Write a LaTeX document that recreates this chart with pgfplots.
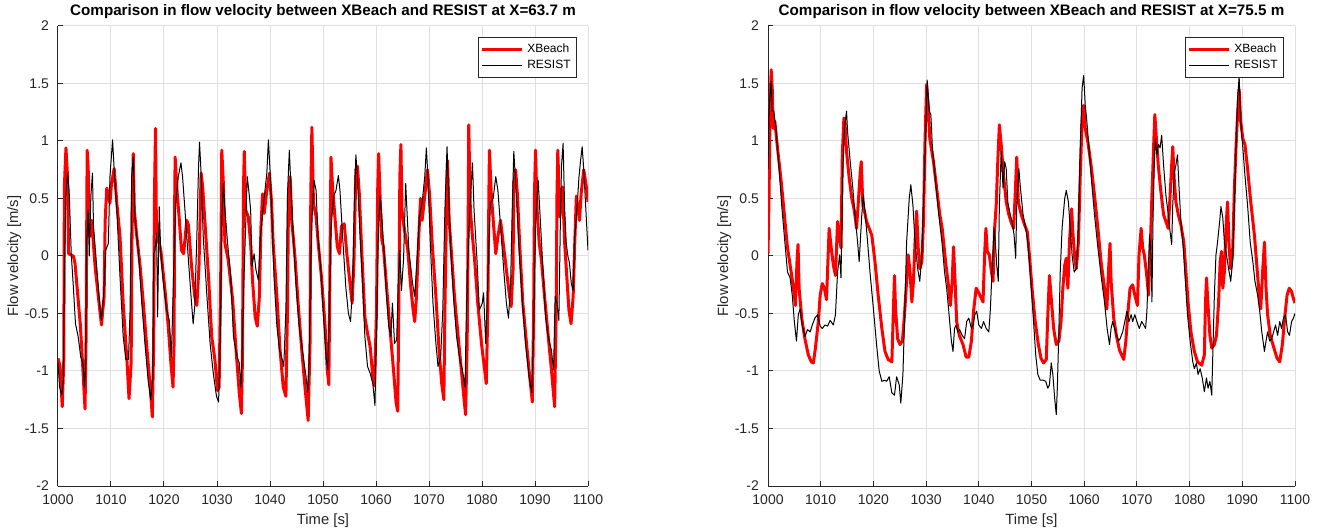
\documentclass[border=0pt]{standalone}
\usepackage{fontspec}
\setmainfont{Liberation Sans}
\usepackage{pgfplots}
\usepackage{pgfplotstable}
\pgfplotsset{compat=1.18}

\pgfplotstableread{
t v
1000 -0.89
1000.4 -0.96
1000.8 -1.31
1001.1 -0.9
1001.2 0.6
1001.5 0.94
1001.8 0.69
1002.0 0.02
1002.9 0
1003.2 -0.06
1004.2 -0.59
1004.5 -0.82
1005.1 -1.33
1005.3 -0.7
1005.5 0.92
1005.7 0.76
1005.97 0.17
1006.35 0.31
1007.0 -0.09
1007.6 -0.35
1008.2 -0.6
1008.7 -0.35
1008.9 0.31
1009.2 0.59
1009.5 0.54
1009.8 0.46
1010.1 0.63
1010.6 0.76
1011.1 0.46
1011.7 0.17
1012.3 -0.41
1013.0 -0.9
1013.4 -1.24
1013.8 -0.93
1014.0 0.4
1014.2 0.89
1014.4 0.4
1014.8 0.2
1015.5 -0.09
1016.1 -0.41
1016.7 -0.76
1017.4 -1.14
1017.8 -1.40
1018.05 -0.76
1018.2 0.52
1018.4 1.11
1018.55 0.34
1018.9 0.14
1019.4 0.05
1020.2 -0.3
1020.8 -0.61
1021.3 -0.93
1021.7 -1.14
1021.9 -0.76
1022.0 0.4
1022.1 0.86
1022.5 0.54
1022.8 0.37
1023.3 0.05
1023.7 0.02
1024.3 0.31
1024.6 0.27
1025.2 -0.09
1025.8 -0.35
1026.2 -0.43
1026.6 -0.09
1027.0 0.72
1027.3 0.6
1027.7 0.31
1028.4 -0.18
1029.0 -0.7
1029.6 -0.9
1030.1 -1.17
1030.4 -1.14
1030.7 -0.18
1030.9 0.92
1031.2 0.63
1031.5 0.11
1032.1 -0.03
1032.95 -0.38
1033.6 -0.82
1034.2 -1.19
1034.6 -1.37
1034.8 -0.9
1035.0 0.6
1035.15 0.91
1035.4 0.4
1035.9 0.34
1036.35 0.11
1036.7 -0.21
1037.2 -0.53
1037.6 -0.61
1038.0 -0.35
1038.3 0.26
1038.6 0.54
1038.9 0.37
1039.4 0.57
1039.9 0.72
1040.3 0.46
1040.6 0.11
1041.3 -0.35
1041.9 -0.82
1042.5 -1.14
1043.0 -1.22
1043.3 -0.47
1043.5 0.54
1043.8 0.69
1044.1 0.31
1044.7 0
1045.3 -0.41
1046.0 -0.82
1046.6 -1.14
1047.2 -1.43
1047.55 -0.76
1047.7 0.54
1047.9 1.12
1048.2 0.46
1048.7 0.34
1049.1 0.11
1049.7 -0.18
1050.4 -0.61
1050.8 -0.99
1051.1 -1.12
1051.3 -0.18
1051.5 0.86
1051.8 0.6
1052.3 0.31
1052.7 0.08
1053.1 0.02
1053.5 0.26
1054.0 0.28
1054.5 0.02
1055.1 -0.24
1055.5 -0.41
1055.85 -0.03
1056.2 0.75
1056.5 0.78
1056.85 0.54
1057.3 0.05
1057.9 -0.53
1058.4 -0.67
1058.9 -0.79
1059.4 -1.05
1059.7 -1.13
1060.1 -0.47
1060.3 0.54
1060.5 0.89
1060.75 0.54
1061.1 0.14
1061.4 0.08
1062.0 -0.27
1062.6 -0.61
1063.3 -0.99
1063.8 -1.28
1064.1 -1.35
1064.3 -0.47
1064.5 0.69
1064.7 0.97
1064.9 0.4
1065.2 0.28
1066.0 0.05
1066.5 -0.24
1067.0 -0.47
1067.3 -0.57
1067.6 -0.38
1068.1 0.2
1068.4 0.5
1068.7 0.31
1069.2 0.52
1069.7 0.75
1070.1 0.54
1070.6 0.11
1071.3 -0.35
1071.9 -0.82
1072.4 -1.11
1072.8 -1.25
1073.0 -0.47
1073.3 0.4
1073.5 0.83
1073.8 0.31
1074.2 0.05
1074.8 -0.35
1075.5 -0.7
1076.1 -0.99
1076.5 -1.19
1076.9 -1.38
1077.2 -0.76
1077.4 0.4
1077.5 1.14
1077.8 0.4
1078.2 0.17
1078.6 -0.03
1079.2 -0.41
1079.9 -0.76
1080.5 -0.99
1080.8 -1.11
1081.1 -0.47
1081.3 0.54
1081.4 0.92
1081.75 0.54
1082.2 0.26
1082.6 0.02
1083.0 0.17
1083.5 0.31
1084.0 0.11
1084.6 -0.12
1085.2 -0.35
1085.5 -0.44
1085.85 -0.12
1086.0 0.63
1086.35 0.75
1086.7 0.52
1087.1 0.11
1087.7 -0.41
1088.4 -0.76
1089.0 -1.05
1089.5 -1.27
1089.75 -0.47
1089.9 0.54
1090.1 0.92
1090.4 0.4
1090.8 0.11
1091.2 -0.03
1091.8 -0.35
1092.5 -0.7
1093.1 -0.99
1093.7 -1.31
1094.0 -0.47
1094.15 0.54
1094.3 0.92
1094.7 0.34
1095.2 0.6
1095.6 0.11
1096.0 -0.18
1096.4 -0.47
1096.8 -0.59
1097.2 -0.35
1097.5 0.11
1097.8 0.52
1098.2 0.4
1098.4 0.31
1098.7 0.54
1099.2 0.75
1099.7 0.6
1100.0 0.47
}\LR

\pgfplotstableread{
t v
1000 -0.93
1000.3 -1.14
1000.7 -1.21
1001.0 -1.08
1001.2 -0.18
1001.5 0.52
1001.8 0.72
1002.1 0.57
1002.5 0.02
1002.9 -0.27
1003.3 -0.59
1003.8 -0.7
1004.3 -0.88
1004.7 -0.93
1005.0 -1.14
1005.2 -0.96
1005.4 0.11
1005.7 0.4
1005.9 0
1006.2 0.52
1006.5 0.72
1006.7 0.26
1007.3 -0.09
1007.9 -0.44
1008.2 -0.56
1008.6 -0.35
1009.0 0.05
1009.5 0.11
1009.8 0.69
1010.3 1.01
1010.6 0.75
1011.1 0.4
1011.7 -0.18
1012.3 -0.7
1012.8 -0.9
1013.3 -0.9
1013.6 -0.47
1013.9 0.69
1014.2 0.86
1014.5 0.34
1015.2 0.02
1015.8 -0.41
1016.4 -0.76
1017.0 -1.08
1017.5 -1.25
1017.9 -1.05
1018.05 0.02
1018.3 0.05
1018.6 0.2
1018.8 -0.53
1019.1 0.43
1019.4 0.02
1019.9 -0.24
1020.5 -0.47
1021.0 -0.56
1021.4 -0.88
1021.8 -0.18
1022.2 0.46
1022.7 0.69
1023.2 0.81
1023.5 0.69
1024.0 0.37
1024.6 -0.03
1025.1 -0.35
1025.5 -0.59
1025.8 -0.44
1026.2 0.17
1026.5 0.75
1026.7 0.99
1027.0 0.72
1027.4 0.17
1028.1 -0.35
1028.7 -0.76
1029.3 -1.02
1029.9 -1.22
1030.3 -1.27
1030.6 -0.76
1030.9 0.31
1031.2 0.63
1031.5 0.4
1032.0 0.11
1032.6 -0.18
1033.1 -0.7
1033.4 -0.78
1033.8 -0.88
1034.2 -0.93
1034.5 -1.14
1034.7 -0.93
1035.0 -0.35
1035.3 0.11
1035.5 0.4
1035.7 0.69
1036.0 0.57
1036.35 0.4
1036.6 -0.09
1037.0 0.02
1037.35 -0.12
1037.8 -0.21
1038.2 0.17
1038.6 0.37
1039.05 0.57
1039.4 0.72
1039.7 1.01
1040.0 0.75
1040.4 0.31
1040.75 -0.18
1041.3 -0.61
1041.8 -0.82
1042.3 -0.9
1042.6 -0.96
1043.0 -0.47
1043.3 0.54
1043.65 0.92
1044.0 0.54
1044.4 0.17
1044.9 -0.24
1045.5 -0.61
1046.2 -0.85
1046.8 -1.05
1047.1 -1.19
1047.4 -0.9
1047.7 -0.03
1048.0 0.4
1048.3 0.66
1048.7 0.57
1049.05 0.17
1049.6 -0.12
1050.1 -0.53
1050.6 -0.88
1050.9 -0.99
1051.2 -0.47
1051.5 0.23
1052.0 0.52
1052.45 0.57
1052.9 0.7
1053.2 0.57
1053.7 0.17
1054.3 -0.27
1054.8 -0.5
1055.2 -0.57
1055.6 -0.24
1055.9 0.4
1056.2 0.88
1056.5 0.69
1057.0 0.17
1057.5 -0.27
1057.9 -0.7
1058.4 -0.96
1058.9 -1.02
1059.4 -1.11
1059.8 -1.3
1060.1 -0.64
1060.4 0.11
1060.75 0.52
1061.1 0.34
1061.5 0.05
1062.0 -0.35
1062.4 -0.61
1062.8 -0.7
1063.1 -0.41
1063.5 -0.76
1063.9 -0.73
1064.2 -0.24
1064.5 0.05
1064.8 -0.3
1065.2 -0.03
1065.6 0.63
1066.2 0.05
1066.9 -0.24
1067.3 -0.35
1067.7 -0.06
1068.2 0.34
1068.7 0.46
1069.2 0.69
1069.5 0.94
1069.8 0.69
1070.25 0.11
1070.75 -0.41
1071.3 -0.76
1071.7 -0.96
1072.2 -0.88
1072.6 -0.47
1073.0 0.4
1073.4 0.95
1073.7 0.54
1074.1 0.05
1074.7 -0.41
1075.2 -0.7
1075.8 -0.9
1076.3 -0.99
1076.8 -1.14
1077.0 -0.61
1077.35 -0.03
1077.7 0.4
1078.2 0.81
1078.5 0.4
1079.05 -0.03
1079.5 -0.47
1080.05 -0.41
1080.3 -0.32
1080.7 -0.76
1081.0 -0.35
1081.3 0.11
1081.6 0.46
1082.1 0.5
1082.6 0.69
1083.0 0.57
1083.5 0.26
1084.1 -0.12
1084.6 -0.41
1085.0 -0.54
1085.4 -0.24
1085.7 0.4
1086.0 0.91
1086.5 0.52
1087.0 0.05
1087.6 -0.38
1088.2 -0.76
1088.9 -1.05
1089.4 -1.19
1089.75 -0.61
1090.1 0.26
1090.6 0.66
1090.9 0.4
1091.4 -0.03
1092.0 -0.53
1092.5 -0.7
1093.1 -0.82
1093.5 -0.99
1093.8 -0.35
1094.15 -0.41
1094.5 -0.56
1094.8 0.34
1095.0 0.78
1095.3 0.98
1095.6 0.4
1095.9 0.11
1096.2 0
1096.5 -0.06
1096.85 -0.24
1097.2 -0.3
1097.5 0.17
1097.9 0.4
1098.3 0.69
1098.6 0.83
1098.9 0.95
1099.2 0.75
1099.6 0.4
1100.0 0.05
}\LB

\pgfplotstableread{
t v
1000 0.02
1000.2 0.53
1000.4 1.31
1000.6 1.62
1000.8 1.46
1001.0 1.11
1001.3 1.17
1001.8 0.94
1002.5 0.65
1003.1 0.36
1003.7 0.07
1004.4 -0.14
1005.0 -0.34
1005.2 -0.43
1005.5 -0.05
1005.7 0.1
1005.9 -0.28
1006.4 -0.54
1007.0 -0.72
1007.65 -0.86
1008.2 -0.92
1008.6 -0.93
1009.0 -0.8
1009.55 -0.57
1009.9 -0.34
1010.3 -0.24
1010.7 -0.28
1011.1 -0.38
1011.6 0.24
1012.0 0.07
1012.4 -0.08
1012.8 -0.17
1013.2 0.3
1013.5 0.18
1013.85 0.07
1014.1 0.88
1014.4 1.2
1014.6 1.17
1014.9 0.91
1015.4 0.68
1015.9 0.5
1016.4 0.39
1016.8 0.24
1017.1 0.44
1017.5 0.73
1017.7 0.82
1018.0 0.44
1018.3 0.39
1018.7 0.3
1019.2 0.24
1019.7 0.18
1020.3 -0.05
1020.9 -0.34
1021.6 -0.63
1022.2 -0.83
1022.8 -0.9
1023.5 -0.92
1023.8 -0.46
1024.0 -0.17
1024.2 -0.46
1024.6 -0.72
1025.05 -0.77
1025.5 -0.74
1025.9 -0.51
1026.3 -0.22
1026.6 0.01
1026.9 -0.11
1027.3 -0.4
1027.6 -0.22
1027.9 0.12
1028.2 0.39
1028.5 0.07
1028.8 -0.11
1029.2 -0.05
1029.5 0.3
1029.8 1.02
1030.1 1.49
1030.4 1.31
1030.7 1.02
1031.4 0.82
1032.0 0.59
1032.6 0.36
1033.05 0.24
1033.7 -0.05
1034.3 -0.28
1034.6 -0.43
1034.95 -0.22
1035.2 0.08
1035.5 -0.22
1035.8 -0.57
1036.3 -0.69
1037.0 -0.77
1037.6 -0.88
1038.1 -0.88
1038.6 -0.74
1039.0 -0.48
1039.5 -0.28
1040.0 -0.32
1040.5 -0.37
1040.8 -0.4
1041.1 0.01
1041.35 0.24
1041.6 0.04
1042.0 0.01
1042.4 -0.14
1042.7 -0.22
1043.0 0.24
1043.3 0.44
1043.6 0.82
1043.9 1.14
1044.25 0.97
1044.7 0.7
1045.2 0.47
1045.7 0.36
1046.1 0.3
1046.6 0.24
1046.9 0.53
1047.2 0.86
1047.5 0.47
1048.05 0.36
1048.7 0.27
1049.2 0.21
1049.6 0.01
1050.1 -0.28
1050.7 -0.57
1051.3 -0.77
1051.8 -0.89
1052.3 -0.93
1052.8 -0.9
1053.1 -0.51
1053.4 -0.17
1053.7 -0.34
1054.2 -0.63
1054.7 -0.77
1055.2 -0.74
1055.6 -0.57
1055.95 -0.28
1056.3 -0.08
1056.6 -0.02
1056.9 -0.28
1057.2 0.12
1057.6 0.41
1057.85 0.21
1058.2 -0.02
1058.5 -0.11
1058.9 0.12
1059.25 0.7
1059.6 1.17
1059.9 1.31
1060.2 1.11
1060.7 0.99
1061.3 0.79
1061.95 0.53
1062.6 0.24
1063.2 -0.05
1063.85 -0.28
1064.3 -0.46
1064.6 -0.14
1064.9 0.11
1065.1 -0.22
1065.6 -0.54
1066.1 -0.69
1066.7 -0.82
1067.5 -0.9
1067.9 -0.74
1068.35 -0.46
1068.7 -0.28
1069.2 -0.25
1069.6 -0.34
1070.1 -0.43
1070.4 0.01
1070.8 0.24
1071.1 0.07
1071.4 0.01
1071.8 -0.14
1072.2 -0.34
1072.5 0.01
1072.85 0.53
1073.2 0.99
1073.4 1.23
1073.7 1.02
1074.05 0.79
1074.55 0.56
1075.06 0.36
1075.5 0.3
1075.95 0.24
1076.3 0.53
1076.6 0.79
1076.8 0.95
1077.1 0.65
1077.4 0.47
1077.85 0.36
1078.35 0.27
1078.9 0.12
1079.3 -0.14
1079.7 -0.4
1080.25 -0.66
1080.9 -0.83
1081.5 -0.92
1082.3 -0.95
1082.8 -0.86
1083.0 -0.43
1083.2 -0.19
1083.5 -0.43
1083.85 -0.69
1084.2 -0.8
1084.7 -0.77
1085.1 -0.69
1085.5 -0.4
1085.8 -0.05
1086.05 0.04
1086.3 -0.28
1086.6 -0.14
1086.9 0.24
1087.2 0.47
1087.5 0.07
1087.8 -0.11
1088.15 0.01
1088.5 0.59
1088.8 0.94
1089.1 1.23
1089.4 1.45
1089.7 1.17
1090.1 1.02
1090.5 0.97
1091.0 0.76
1091.6 0.47
1092.3 0.18
1092.8 -0.11
1093.2 -0.34
1093.5 -0.46
1093.85 -0.14
1094.2 0.12
1094.5 -0.28
1094.8 -0.51
1095.3 -0.69
1096.0 -0.8
1096.6 -0.89
1097.1 -0.92
1097.6 -0.77
1098.1 -0.51
1098.5 -0.34
1098.9 -0.28
1099.35 -0.31
1099.7 -0.37
1100.0 -0.41
}\RR

\pgfplotstableread{
t v
1000 0.76
1000.2 1.26
1000.4 1.4
1000.6 1.52
1000.8 1.26
1001.1 1.26
1001.5 1.11
1002.0 0.82
1002.6 0.44
1003.2 0.12
1003.7 -0.14
1004.2 -0.19
1004.6 -0.34
1005.0 -0.57
1005.4 -0.74
1005.75 -0.51
1006.1 -0.46
1006.5 -0.6
1007.0 -0.7
1007.5 -0.64
1008.0 -0.66
1008.4 -0.6
1008.9 -0.54
1009.4 -0.51
1009.9 -0.61
1010.3 -0.63
1010.8 -0.6
1011.3 -0.61
1011.8 -0.56
1012.4 -0.6
1012.8 -0.51
1013.2 -0.14
1013.6 0.01
1013.85 -0.19
1014.2 0.73
1014.5 1.11
1014.9 1.26
1015.1 1.08
1015.6 0.82
1016.1 0.59
1016.5 0.36
1017.0 0.12
1017.3 -0.05
1017.8 0.36
1018.1 0.53
1018.4 0.39
1018.9 0.12
1019.35 -0.14
1020.0 -0.46
1020.6 -0.77
1021.1 -1.0
1021.6 -1.09
1022.1 -1.08
1022.5 -1.09
1023.0 -1.05
1023.5 -1.19
1024.0 -1.21
1024.4 -1.05
1024.9 -1.12
1025.2 -1.28
1025.6 -1.03
1025.9 -0.57
1026.3 0.12
1026.8 0.5
1027.1 0.62
1027.5 0.44
1027.9 0.12
1028.4 -0.11
1028.8 -0.22
1029.2 0.01
1029.6 0.59
1030.0 1.17
1030.2 1.53
1030.6 1.26
1030.9 1.23
1031.2 0.94
1031.8 0.65
1032.4 0.36
1033.05 0.1
1033.5 -0.14
1033.9 -0.28
1034.3 -0.48
1034.8 -0.74
1035.1 -0.83
1035.4 -0.63
1035.7 -0.6
1036.0 -0.66
1036.35 -0.64
1036.85 -0.69
1037.3 -0.72
1037.7 -0.57
1038.1 -0.54
1038.6 -0.63
1038.9 -0.6
1039.25 -0.51
1039.6 -0.48
1040.0 -0.6
1040.5 -0.63
1040.9 -0.57
1041.4 -0.63
1041.9 -0.66
1042.2 -0.46
1042.5 -0.14
1042.9 0.24
1043.2 0.07
1043.4 -0.08
1043.7 -0.22
1043.9 0.44
1044.25 0.91
1044.6 0.59
1044.9 0.82
1045.2 0.76
1045.5 0.47
1045.96 0.36
1046.3 0.3
1046.7 0.18
1047.0 -0.02
1047.2 0.44
1047.6 0.76
1047.9 0.59
1048.4 0.36
1048.9 0.24
1049.3 0.12
1049.75 -0.14
1050.3 -0.51
1050.8 -0.86
1051.2 -1.03
1051.65 -1.08
1052.2 -1.08
1052.7 -1.09
1053.1 -1.15
1053.4 -1.12
1053.75 -0.93
1054.05 -1.03
1054.4 -1.24
1054.7 -1.38
1054.9 -1.15
1055.2 -0.63
1055.45 -0.14
1055.8 0.24
1056.3 0.5
1056.6 0.57
1057.0 0.47
1057.35 0.24
1057.7 0.01
1058.1 -0.14
1058.5 -0.11
1058.9 0.24
1059.25 0.94
1059.6 1.46
1059.9 1.57
1060.2 1.31
1060.5 1.17
1060.9 0.94
1061.4 0.65
1061.95 0.36
1062.6 0.07
1063.2 -0.17
1063.85 -0.4
1064.35 -0.63
1064.8 -0.77
1065.1 -0.63
1065.4 -0.57
1065.9 -0.65
1066.5 -0.74
1066.8 -0.72
1067.3 -0.66
1067.7 -0.57
1068.1 -0.48
1068.5 -0.57
1068.9 -0.51
1069.2 -0.57
1069.6 -0.51
1070.0 -0.57
1070.45 -0.63
1070.9 -0.57
1071.3 -0.6
1071.65 -0.63
1071.9 -0.48
1072.15 -0.14
1072.4 0.18
1072.7 0.01
1072.85 -0.4
1073.05 0.3
1073.3 0.79
1073.5 1.02
1073.8 0.88
1074.1 0.97
1074.4 0.94
1074.7 1.05
1075.06 0.79
1075.5 0.53
1075.95 0.36
1076.3 0.21
1076.6 0.1
1076.8 0.44
1077.1 0.73
1077.4 0.79
1077.7 0.88
1078.0 0.59
1078.35 0.3
1078.8 0.07
1079.2 -0.22
1079.6 -0.51
1080.1 -0.74
1080.6 -0.92
1080.9 -0.98
1081.3 -0.93
1081.6 -1.03
1082.0 -0.98
1082.4 -1.06
1082.8 -1.18
1083.2 -1.06
1083.5 -1.15
1083.85 -1.09
1084.2 -1.21
1084.4 -0.86
1084.7 -0.34
1085.0 0.01
1085.3 0.12
1085.7 0.3
1085.95 0.43
1086.3 0.33
1086.6 0.12
1087.0 0.01
1087.4 -0.11
1087.8 -0.22
1088.15 -0.05
1088.5 0.44
1088.8 0.94
1089.1 1.37
1089.4 1.56
1089.7 1.17
1090.1 0.94
1090.5 0.7
1091.0 0.44
1091.5 0.12
1092.0 -0.05
1092.4 -0.22
1092.9 -0.34
1093.3 -0.48
1093.7 -0.66
1094.2 -0.83
1094.5 -0.74
1094.8 -0.66
1095.2 -0.74
1095.55 -0.72
1095.95 -0.66
1096.3 -0.6
1096.7 -0.69
1097.1 -0.57
1097.45 -0.63
1097.8 -0.54
1098.2 -0.51
1098.6 -0.66
1098.95 -0.69
1099.35 -0.57
1099.7 -0.54
1100.0 -0.5
}\RB

\definecolor{gridgray}{RGB}{223,223,223}
\definecolor{axgray}{RGB}{38,38,38}

\pgfplotsset{
  vel/.style={
    scale only axis,
    xmin=1000, xmax=1100, ymin=-2, ymax=2,
    xtick={1000,1010,...,1100},
    ytick={-2,-1.5,...,2},
    axis lines*=left,
    axis line style={axgray, line width=0.5pt},
    grid=major,
    major grid style={gridgray, line width=0.5pt},
    tick align=inside,
    major tick length=2.5pt,
    tick style={axgray, line width=0.5pt},
    tick label style={font=\fontsize{7}{8}\selectfont, text=axgray},
    /pgf/number format/assume math mode=true,
    /pgf/number format/set thousands separator={},
    xticklabel style={yshift=-1pt},
    yticklabel style={xshift=-1pt},
    label style={font=\fontsize{7.4}{8.5}\selectfont, text=axgray},
    title style={font=\bfseries\fontsize{7.6}{8.6}\selectfont, yshift=-6pt},
    xlabel={Time [s]},
    ylabel={Flow velocity [m/s]},
    xlabel style={yshift=2.5pt},
    ylabel style={yshift=-5pt},
    legend style={at={(1,1)}, anchor=north east, xshift=-5.5pt, yshift=-5.5pt,
      font=\fontsize{6}{6.8}\selectfont, draw=axgray, line width=0.4pt,
      inner sep=1pt, row sep=-1.5pt, cells={anchor=west}},
    legend image code/.code={\draw[#1] (0pt,0pt) -- (20pt,0pt);},
    every axis plot/.append style={line join=round},
  }
}

\begin{document}
\begin{tikzpicture}
\useasboundingbox (0,0) rectangle (661pt,265pt);
\begin{axis}[vel, at={(29pt,22pt)}, anchor=south west, width=265pt, height=230pt,
  title={Comparison in flow velocity between XBeach and RESIST at X=63.7 m}]
\addplot[red, line width=1.5pt] table[x=t, y=v] {\LR};
\addlegendentry{XBeach}
\addplot[black, line width=0.5pt] table[x=t, y=v] {\LB};
\addlegendentry{RESIST}
\end{axis}
\begin{axis}[vel, at={(384pt,22pt)}, anchor=south west, width=263.5pt, height=230pt,
  title={Comparison in flow velocity between XBeach and RESIST at X=75.5 m}]
\addplot[red, line width=1.5pt] table[x=t, y=v] {\RR};
\addlegendentry{XBeach}
\addplot[black, line width=0.5pt] table[x=t, y=v] {\RB};
\addlegendentry{RESIST}
\end{axis}
\end{tikzpicture}
\end{document}
